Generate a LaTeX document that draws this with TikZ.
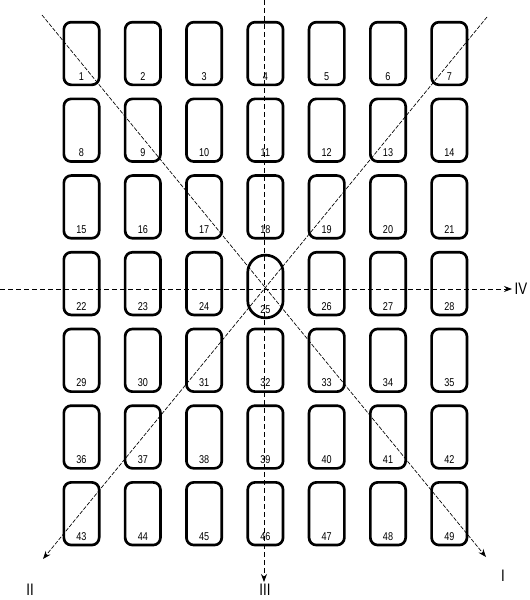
\documentclass[tikz,border=0pt]{standalone}
\usepackage{fontspec}
\setmainfont{Liberation Sans}
\newfontfamily\numfont{Liberation Sans}[FakeStretch=0.8]
\usetikzlibrary{arrows.meta,positioning,calc}

\begin{document}
\begin{tikzpicture}[x=0.75pt, y=-0.75pt, >={Stealth[length=6pt,width=4.5pt]}, line join=round,
  seat/.style={draw, line width=2pt, rounded corners=5.5pt, minimum width=26.5pt,
    minimum height=47pt, inner sep=0pt},
  hub/.style={seat, rounded corners=13pt},
  numlabel/.style={anchor=base, yshift=4.5pt, inner sep=0pt,
    font=\numfont\fontsize{8.5}{10}\selectfont},
  axisline/.style={line width=0.6pt, dash pattern=on 4pt off 2pt},
  diagline/.style={line width=0.5pt, dash pattern=on 3pt off 1.2pt},
  dirlabel/.style={inner sep=0pt, font=\numfont\fontsize{12.5}{14}\selectfont}]
\useasboundingbox (0,0) rectangle (529,600);
% grid of seats
\foreach \r in {0,...,6}{
  \foreach \c in {0,...,6}{
    \pgfmathtruncatemacro{\n}{7*\r+\c+1}
    \ifnum\n=25\else
      \node[seat, label={[numlabel]south:\n}] (b\n) at (81.5+61.3*\c, 53.5+76.7*\r) {};
    \fi
  }
}
\node[hub, label={[numlabel]south:25}] (b25) at (265.4, 286.5) {};
% axes
\coordinate (vtop) at (264,0);
\coordinate (vbot) at (264,582);
\coordinate (hleft) at (0,289);
\coordinate (hright) at (512,289);
\draw[axisline, ->] (vtop) -- (vbot);
\draw[axisline, ->] (hleft) -- (hright);
% diagonals
\coordinate (dItop) at (42,15);
\coordinate (dIend) at (486,557);
\coordinate (dIItop) at (487,17);
\coordinate (dIIend) at (43,559);
\draw[diagline, ->] (dItop) -- (dIend);
\draw[diagline, ->] (dIItop) -- (dIIend);
% direction labels
\node[dirlabel] (lI) at (503,576) {I};
\node[dirlabel] (lII) at (30,590) {II};
\node[dirlabel] (lIII) at (265,590) {III};
\node[dirlabel] (lIV) at (521,289) {IV};
\end{tikzpicture}
\end{document}
